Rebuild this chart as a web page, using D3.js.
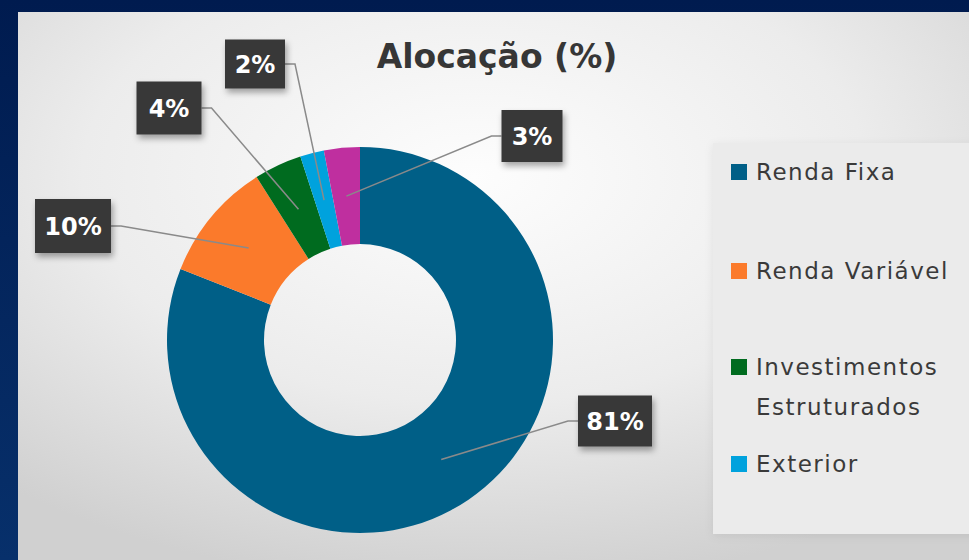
<!DOCTYPE html>
<html>
<head>
<meta charset="utf-8">
<script src="https://cdn.jsdelivr.net/npm/d3@7"></script>
<style>
  html, body { margin: 0; padding: 0; background: #04215a; }
  svg { display: block; }
</style>
</head>
<body>
<svg id="chart" width="969" height="560"></svg>
<script>
// data
const categories = ["Renda Fixa", "Renda Variável", "Investimentos Estruturados", "Exterior", "Outros"];
const values = [81, 10, 4, 2, 3];
const colors = ["#005f87", "#fb7a2b", "#006b1f", "#00a2dd", "#bf2f9f"];
const legendCategories = ["Renda Fixa", "Renda Variável", "Investimentos|Estruturados", "Exterior"];

// label box placement (center x, center y, width, height) – layout only
const labelBoxes = [
  { cx: 615, cy: 421, w: 74, h: 51 },
  { cx: 73,  cy: 226, w: 76, h: 54 },
  { cx: 169, cy: 108, w: 65, h: 53 },
  { cx: 255, cy: 64,  w: 60, h: 49 },
  { cx: 532, cy: 136, w: 61, h: 52 }
];

const W = 969, H = 560;
const cx = 360, cy = 340, outerR = 193, innerR = 96;

const svg = d3.select("#chart");
const defs = svg.append("defs");

const bgGrad = defs.append("linearGradient").attr("id", "bg")
  .attr("x1", 0).attr("y1", 0).attr("x2", 0).attr("y2", 1);
bgGrad.append("stop").attr("offset", "0%").attr("stop-color", "#001b4f");
bgGrad.append("stop").attr("offset", "100%").attr("stop-color", "#07306b");

const panelGrad = defs.append("radialGradient").attr("id", "panel")
  .attr("cx", "48%").attr("cy", "30%").attr("r", "75%");
panelGrad.append("stop").attr("offset", "0%").attr("stop-color", "#fdfdfd");
panelGrad.append("stop").attr("offset", "55%").attr("stop-color", "#ececec");
panelGrad.append("stop").attr("offset", "100%").attr("stop-color", "#d0d0d0");

const shadow = defs.append("filter").attr("id", "shadow")
  .attr("x", "-30%").attr("y", "-30%").attr("width", "160%").attr("height", "160%");
shadow.append("feDropShadow").attr("dx", 2).attr("dy", 4).attr("stdDeviation", 3)
  .attr("flood-color", "#000").attr("flood-opacity", 0.35);

const softShadow = defs.append("filter").attr("id", "soft")
  .attr("x", "-20%").attr("y", "-20%").attr("width", "140%").attr("height", "140%");
softShadow.append("feDropShadow").attr("dx", 0).attr("dy", 2).attr("stdDeviation", 4)
  .attr("flood-color", "#000").attr("flood-opacity", 0.07);

svg.append("rect").attr("width", W).attr("height", H).attr("fill", "url(#bg)");
svg.append("rect").attr("x", 18).attr("y", 12).attr("width", W - 18).attr("height", H - 12)
  .attr("fill", "url(#panel)");

// legend box
svg.append("rect").attr("x", 713).attr("y", 143).attr("width", 270).attr("height", 391)
  .attr("fill", "#ebebeb").attr("filter", "url(#soft)");

// title
svg.append("text")
  .attr("x", 497).attr("y", 68)
  .attr("text-anchor", "middle")
  .attr("font-family", "'DejaVu Sans', sans-serif")
  .attr("font-weight", "bold")
  .attr("font-size", 33)
  .attr("fill", "#363636")
  .text("Alocação (%)");

// donut
const pie = d3.pie().sort(null).value(d => d);
const arcs = pie(values);
const arc = d3.arc().innerRadius(innerR).outerRadius(outerR);

const g = svg.append("g").attr("transform", `translate(${cx},${cy})`);
g.selectAll("path.slice")
  .data(arcs)
  .join("path")
  .attr("class", "slice")
  .attr("d", arc)
  .attr("fill", (d, i) => colors[i]);

// leader lines + labels
arcs.forEach((d, i) => {
  const c = arc.centroid(d);
  const b = labelBoxes[i];
  const startX = cx + c[0], startY = cy + c[1];
  const side = startX > b.cx ? 1 : -1;
  const edgeX = b.cx + side * b.w / 2;
  const elbowX = edgeX + side * 10;
  svg.append("polyline")
    .attr("points", `${startX},${startY} ${elbowX},${b.cy} ${edgeX},${b.cy}`)
    .attr("fill", "none")
    .attr("stroke", "#8a8a8a")
    .attr("stroke-width", 1.5);
  svg.append("rect")
    .attr("x", b.cx - b.w / 2).attr("y", b.cy - b.h / 2)
    .attr("width", b.w).attr("height", b.h)
    .attr("fill", "#383838")
    .attr("filter", "url(#shadow)");
  svg.append("text")
    .attr("x", b.cx).attr("y", b.cy + 9)
    .attr("text-anchor", "middle")
    .attr("font-family", "'DejaVu Sans', sans-serif")
    .attr("font-weight", "bold")
    .attr("font-size", 24)
    .attr("fill", "#fff")
    .text(Math.round(d.value) + "%");
});

// legend
const legendY = [172, 271, 367, 464];
const legend = svg.append("g");
legendCategories.forEach((name, i) => {
  legend.append("rect")
    .attr("x", 731).attr("y", legendY[i] - 8)
    .attr("width", 16).attr("height", 16)
    .attr("fill", colors[i]);
  const lines = name.split("|");
  lines.forEach((ln, j) => {
    legend.append("text")
      .attr("x", 756).attr("y", legendY[i] + 8 + j * 40)
      .attr("font-family", "'DejaVu Sans', sans-serif")
      .attr("font-size", 23)
      .attr("letter-spacing", 1.5)
      .attr("fill", "#3a3a3a")
      .text(ln);
  });
});
</script>
</body>
</html>
